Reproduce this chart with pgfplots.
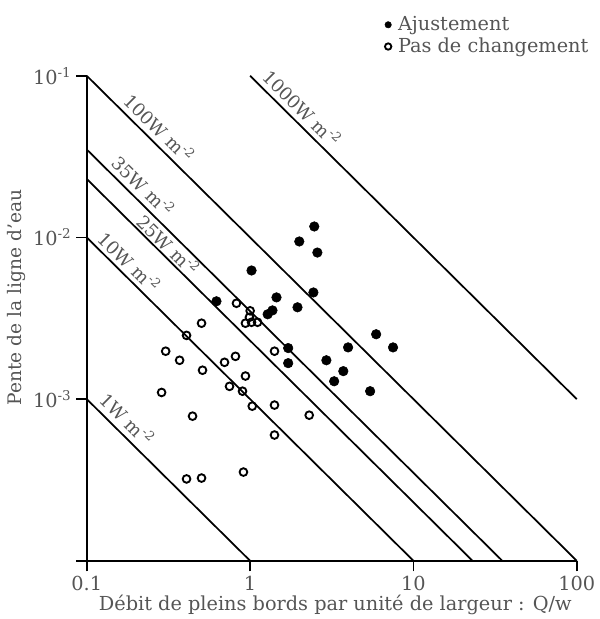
\documentclass[border=0pt]{standalone}
\usepackage{pgfplots}
\pgfplotsset{compat=1.18}
\usepackage{fontspec}
\setmainfont{DejaVu Serif}
\definecolor{txt}{HTML}{555555}
\begin{document}
\begin{tikzpicture}
\path (0,0) rectangle (442.5pt,464.25pt);
\begin{axis}[
  at={(65.25pt,42.75pt)}, anchor=south west,
  scale only axis, width=368.25pt, height=364.5pt,
  xmode=log, ymode=log,
  xmin=0.1, xmax=100, ymin=1e-4, ymax=1e-1,
  axis lines*=left,
  axis line style={line width=1.4pt},
  xtick={0.1,1,10,100}, xticklabels={0.1,1,10,100},
  ytick={1e-4,1e-3,1e-2,1e-1},
  yticklabels={{},10\textsuperscript{-3},10\textsuperscript{-2},10\textsuperscript{-1}},
  xminorticks=false, yminorticks=false,
  tick align=outside, major tick length=8pt,
  every tick/.style={black, line width=1.4pt},
  tick label style={font=\fontsize{14.5}{16}\selectfont, text=txt},
  /pgf/number format/assume math mode=true,
  clip=false,
  legend cell align=left,
  legend style={at={(0.608,1.128)}, anchor=north west, draw=none, fill=none,
    inner sep=0pt, font=\fontsize{14.5}{16}\selectfont, text=txt},
  legend image code/.code={\draw[mark size=2.4pt] plot coordinates {(0.12cm,0cm)};},
]
% stream power lines
\addplot[black, line width=1.3pt, forget plot] coordinates {(0.1,0.1) (100,1e-4)};
\addplot[black, line width=1.3pt, forget plot] coordinates {(1,0.1) (100,1e-3)};
\addplot[black, line width=1.3pt, forget plot] coordinates {(0.1,0.035) (35,1e-4)};
\addplot[black, line width=1.3pt, forget plot] coordinates {(0.1,0.023) (23,1e-4)};
\addplot[black, line width=1.3pt, forget plot] coordinates {(0.1,0.01) (10,1e-4)};
\addplot[black, line width=1.3pt, forget plot] coordinates {(0.1,0.001) (1,1e-4)};
% Ajustement
\addplot[only marks, mark=*, mark size=3.6pt, black] coordinates {
(0.622,0.00403) (1.02,0.00625) (1.28,0.00335) (1.37,0.00354) (1.45,0.00426)
(1.71,0.00207) (1.71,0.00167) (2.00,0.00945) (1.95,0.00370) (2.44,0.00457)
(2.47,0.0117) (2.58,0.00807) (2.93,0.00174) (3.27,0.00129) (3.72,0.00149)
(3.98,0.00209) (5.43,0.00112) (5.91,0.00252) (7.50,0.00209)
};
\addlegendentry{\hspace{3pt}Ajustement}
% Pas de changement
\addplot[only marks, mark=o, mark size=2.9pt, line width=1.4pt, black] coordinates {
(0.825,0.00392) (1.00,0.00352) (0.99,0.00321) (0.936,0.00295) (1.02,0.00299)
(1.11,0.00299) (0.504,0.00295) (0.408,0.00248) (0.304,0.00198) (0.370,0.00174)
(0.511,0.00151) (0.697,0.00169) (0.813,0.00184) (0.936,0.00139) (0.748,0.00120)
(0.898,0.00112) (1.03,0.000905) (1.41,0.000919) (1.41,0.00198) (0.287,0.00110)
(0.444,0.000785) (1.41,0.000600) (0.408,0.000321) (0.504,0.000325) (0.910,0.000354)
(2.30,0.000796)
};
\addlegendentry{\hspace{3pt}Pas de changement}
% line labels
\begin{scope}[every node/.style={rotate=-44.7, text=txt, font=\fontsize{13.5}{15}\selectfont, inner sep=0pt}]
\node at (axis cs:0.279,0.0478) {100W m\textsuperscript{-2}};
\node at (axis cs:2.09,0.0634) {1000W m\textsuperscript{-2}};
\node at (axis cs:0.223,0.0210) {35W m\textsuperscript{-2}};
\node at (axis cs:0.317,0.00906) {25W m\textsuperscript{-2}};
\node at (axis cs:0.183,0.00711) {10W m\textsuperscript{-2}};
\node at (axis cs:0.178,0.000753) {1W m\textsuperscript{-2}};
\end{scope}
\end{axis}
\node[rotate=90, text=txt, font=\fontsize{14}{16}\selectfont] at ({17*0.75pt},{(619-298)*0.75pt}) {Pente de la ligne d’eau};
\node[text=txt, font=\fontsize{14.5}{16}\selectfont] at ({336*0.75pt},{(619-606)*0.75pt}) {Débit de pleins bords par unité de largeur : Q/w};
\end{tikzpicture}
\end{document}
